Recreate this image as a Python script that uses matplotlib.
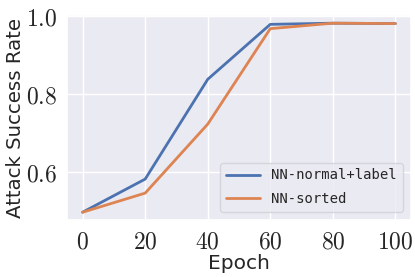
import matplotlib
matplotlib.use("Agg")
import matplotlib.pyplot as plt
import seaborn as sns
from matplotlib.ticker import FuncFormatter

epochs = [0, 20, 40, 60, 80, 100]
nn_normal_label = [0.497, 0.582, 0.838, 0.979, 0.982, 0.981]
nn_sorted = [0.497, 0.546, 0.723, 0.968, 0.982, 0.981]
series_names = ["NN-normal+label", "NN-sorted"]

sns.set_theme(style="darkgrid")
plt.rcParams['font.family'] = ['DejaVu Sans']
plt.rcParams['mathtext.fontset'] = 'cm'

fig = plt.figure(figsize=(4.15, 2.77), dpi=100)
ax = fig.add_axes([67/415, 1-220/277, (411-67)/415, (220-15)/277])
c = sns.color_palette()
ax.plot(epochs, nn_normal_label, color=c[0], lw=2, label=series_names[0])
ax.plot(epochs, nn_sorted, color=c[1], lw=2, label=series_names[1])
ax.set_xlim(-5, 105)
ax.set_ylim(0.477, 1.003)
ax.set_xticks([0, 20, 40, 60, 80, 100])
ax.set_yticks([0.6, 0.8, 1.0])
ax.xaxis.set_major_formatter(FuncFormatter(lambda v, p: r"$%d$" % v))
ax.yaxis.set_major_formatter(FuncFormatter(lambda v, p: r"$%.1f$" % v))
ax.tick_params(labelsize=17, pad=1)
ax.set_xlabel("Epoch", fontsize=14.5, labelpad=0)
ax.set_ylabel("Attack Success Rate", fontsize=14.2, labelpad=1)
leg = ax.legend(loc="lower right", prop={'family': 'DejaVu Sans Mono', 'size': 10},
                facecolor="#eaeaf2", framealpha=0.8, handlelength=2.5,
                labelspacing=0.7, borderaxespad=0.6, edgecolor="#d0d0d8")
fig.savefig("out.png", dpi=100)
